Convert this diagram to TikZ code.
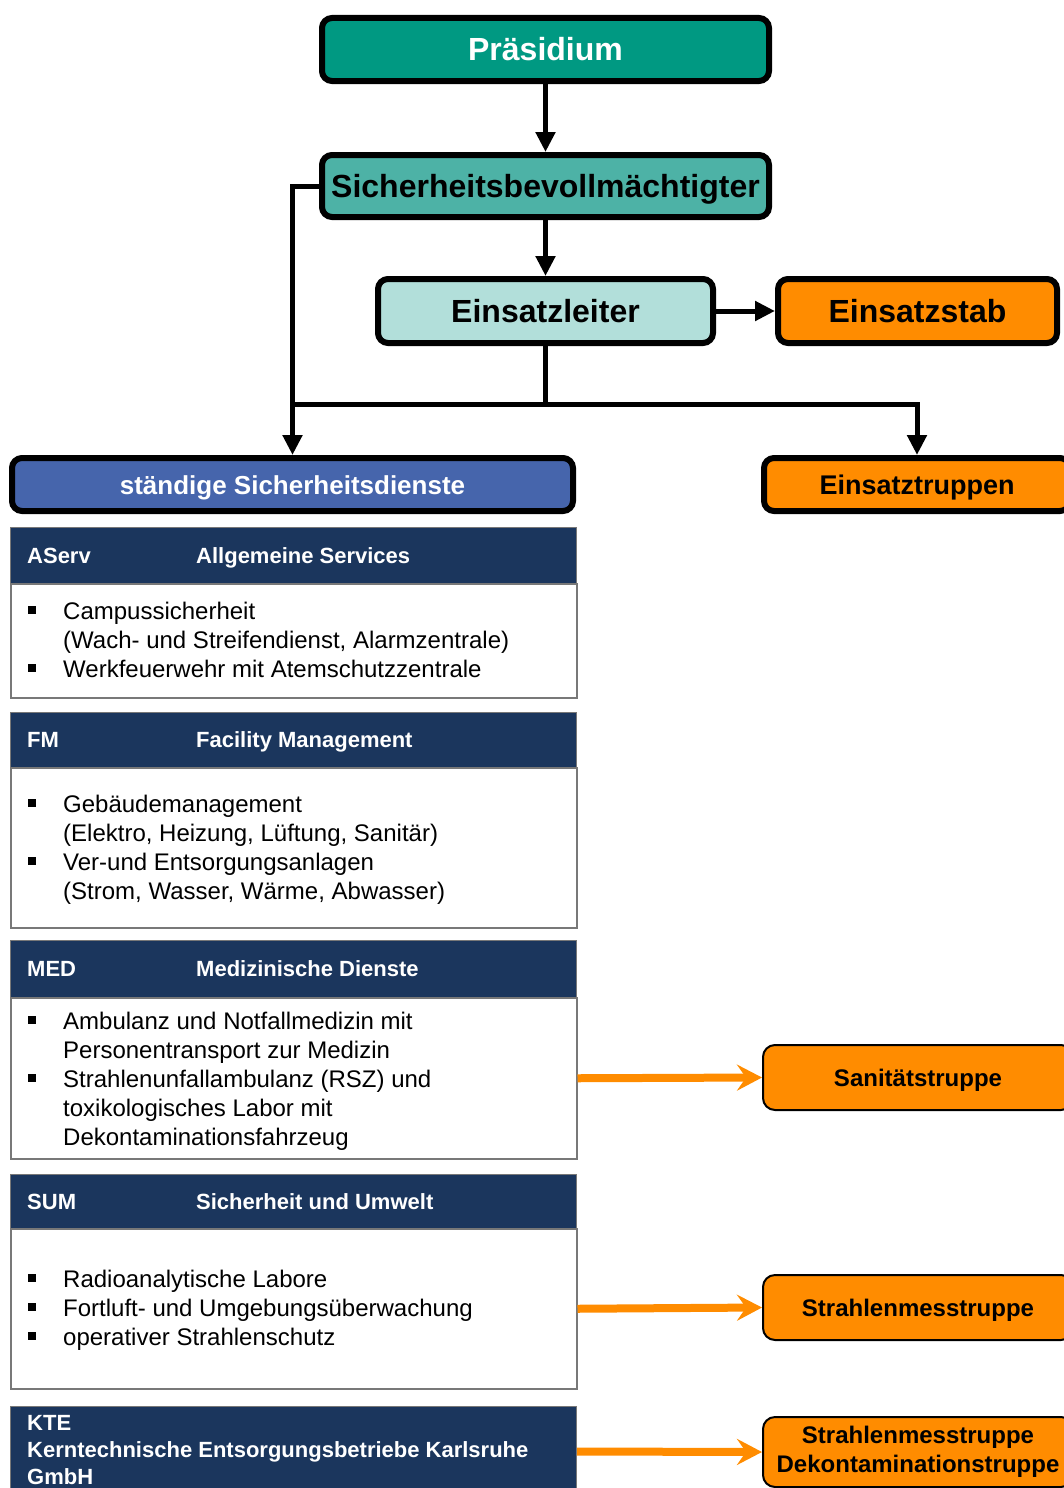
\documentclass[tikz,border=0pt]{standalone}
\usepackage{fontspec}
\setmainfont{Liberation Sans}
\usetikzlibrary{arrows.meta}
\usetikzlibrary{positioning}

\definecolor{praescol}{RGB}{0,153,130}
\definecolor{sbvcol}{RGB}{77,178,166}
\definecolor{elcol}{RGB}{178,223,218}
\definecolor{orangecol}{RGB}{255,140,0}
\definecolor{ssdcol}{RGB}{70,101,172}
\definecolor{navycol}{RGB}{27,54,93}
\definecolor{framegray}{RGB}{120,120,120}

\newcommand{\blt}{\llap{\rule[5pt]{8pt}{8pt}\hspace{27pt}}}

\begin{document}
\begin{tikzpicture}[x=1pt, y=-1pt,
	box/.style={draw, line width=6pt, rounded corners=10pt, inner sep=0pt,
		font=\fontsize{32}{36}\selectfont\bfseries, text height=23pt, text depth=0pt},
	smallbox/.style={draw, line width=2pt, rounded corners=12pt, inner sep=0pt,
		fill=orangecol, font=\fontsize{24}{29}\selectfont\bfseries, minimum width=310pt},
	header/.style={draw=framegray, line width=1pt, fill=navycol, minimum width=566pt, inner sep=0pt, anchor=north west},
	body/.style={draw=framegray, line width=1.5pt, fill=white, minimum width=566pt, inner sep=0pt, anchor=north west},
	hdtxt/.style={text=white, font=\fontsize{22}{27}\selectfont\bfseries, inner sep=0pt, anchor=base west},
	items/.style={font=\fontsize{24}{29}\selectfont, align=left, inner sep=0pt, anchor=north west},
	conn/.style={line width=5pt, -{Triangle[length=20pt, width=19pt]}},
	plain/.style={line width=5pt},
	feed/.style={line width=8pt, draw=orangecol, -{Stealth[length=25pt, width=26pt, inset=9pt]}}]

	\useasboundingbox (0,0) rectangle (1064,1488);
	\clip (0,0) rectangle (1064,1488);

	% leadership
	\node[box, fill=praescol, text=white, minimum width=447pt, minimum height=63pt] (praes) at (545.5,49.5) {Präsidium};
	\node[box, fill=sbvcol, minimum width=447pt, minimum height=62pt] (sbv) at (545.5,186) {Sicherheitsbevollmächtigter};
	\node[box, fill=elcol, minimum width=335pt, minimum height=64pt] (el) at (545.5,311) {Einsatzleiter};
	\node[box, fill=orangecol, minimum width=279pt, minimum height=64pt] (stab) at (917.5,311) {Einsatzstab};
	\node[box, fill=ssdcol, text=white, minimum width=561pt, minimum height=53pt,
		font=\fontsize{26}{30}\selectfont\bfseries, text height=19pt] (ssd) at (292.5,484.5) {ständige Sicherheitsdienste};
	\node[box, fill=orangecol, minimum width=306pt, minimum height=53pt,
		font=\fontsize{27}{30}\selectfont\bfseries, text height=19.5pt] (et) at (917,484.5) {Einsatztruppen};

	\coordinate (fork) at (545.5,404);
	\draw[conn] (praes) -- (sbv);
	\draw[conn] (sbv) -- (el);
	\draw[conn] (el) -- (stab);
	\draw[conn] (sbv.west) -| (ssd.north);
	\draw[plain] (el.south) -- (fork) -- (fork -| ssd.north);
	\draw[conn] (fork) -| (et.north);

	% AServ
	\node[header, minimum height=56pt] (aserv-h) at (10,527) {};
	\node[body, minimum height=114pt] (aserv-b) at (10,583) {};
	\node[hdtxt] (aserv-abbr) at (27,563) {AServ};
	\node[hdtxt] (aserv-title) at (196,563) {Allgemeine Services};
	\node[items] (aserv-list) at (63,601.5) {\blt Campussicherheit\\(Wach- und Streifendienst, Alarmzentrale)\\\blt Werkfeuerwehr mit Atemschutzzentrale};

	% FM
	\node[header, minimum height=55pt] (fm-h) at (10,712) {};
	\node[body, minimum height=160pt] (fm-b) at (10,767) {};
	\node[hdtxt] (fm-abbr) at (27,747.5) {FM};
	\node[hdtxt] (fm-title) at (196,747.5) {Facility Management};
	\node[items] (fm-list) at (63,794.5) {\blt Gebäudemanagement\\(Elektro, Heizung, Lüftung, Sanitär)\\\blt Ver-und Entsorgungsanlagen\\(Strom, Wasser, Wärme, Abwasser)};

	% MED
	\node[header, minimum height=57pt] (med-h) at (10,940) {};
	\node[body, minimum height=161pt] (med-b) at (10,997) {};
	\node[hdtxt] (med-abbr) at (27,976) {MED};
	\node[hdtxt] (med-title) at (196,976) {Medizinische Dienste};
	\node[items] (med-list) at (63,1011.5) {\blt Ambulanz und Notfallmedizin mit\\Personentransport zur Medizin\\\blt Strahlenunfallambulanz (RSZ) und\\toxikologisches Labor mit\\Dekontaminationsfahrzeug};

	% SUM
	\node[header, minimum height=54pt] (sum-h) at (10,1174) {};
	\node[body, minimum height=160pt] (sum-b) at (10,1228) {};
	\node[hdtxt] (sum-abbr) at (27,1209) {SUM};
	\node[hdtxt] (sum-title) at (196,1209) {Sicherheit und Umwelt};
	\node[items] (sum-list) at (63,1269.5) {\blt Radioanalytische Labore\\\blt Fortluft- und Umgebungsüberwachung\\\blt operativer Strahlenschutz};

	% KTE
	\node[header, minimum height=90pt] (kte-h) at (10,1406) {};
	\node[hdtxt, align=left, anchor=north west] (kte-title) at (27,1415) {KTE\\Kerntechnische Entsorgungsbetriebe Karlsruhe\\GmbH};

	% troops
	\node[smallbox, minimum height=65pt, text height=17pt, text depth=0pt] (san) at (918,1077.5) {Sanitätstruppe};
	\node[smallbox, minimum height=65pt, text height=17pt, text depth=0pt] (smt) at (918,1307.5) {Strahlenmesstruppe};
	\node[smallbox, minimum height=70pt, align=center] (dkt) at (918,1452) {Strahlenmesstruppe\\Dekontaminationstruppe};

	\draw[feed] (med-b.east) -- (san.west);
	\draw[feed] (sum-b.east) -- (smt.west);
	\draw[feed] (kte-h.east) -- (dkt.west);
\end{tikzpicture}
\end{document}
